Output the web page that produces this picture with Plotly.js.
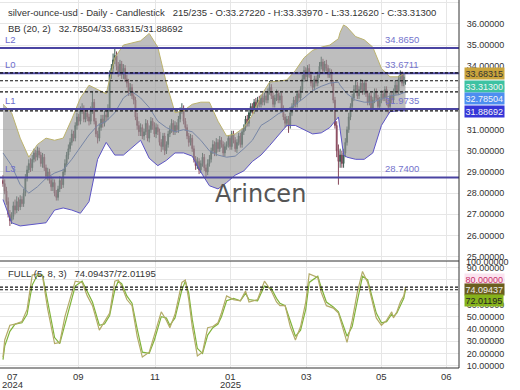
<!DOCTYPE html>
<html><head><meta charset="utf-8">
<script src="https://cdn.plot.ly/plotly-3.0.1.min.js"></script>
<style>html,body{margin:0;padding:0;background:#fff}#chart{width:520px;height:390px}</style>
</head><body><div id="chart"></div><script>
// ---- candle data (bar index 0..234) ----
const openP = [28.60,28.45,28.10,27.60,27.00,26.70,26.90,27.40,27.20,27.60,
27.35,27.70,27.50,28.00,28.70,29.10,29.40,29.20,29.60,29.90,
29.70,30.00,29.80,29.40,29.70,29.20,28.80,29.00,28.60,28.30,
28.50,28.00,27.80,28.20,28.60,28.40,29.00,29.40,29.80,30.10,
30.40,30.80,30.60,31.20,31.60,31.40,31.90,32.00,31.50,31.80,
31.60,31.40,31.90,32.30,31.40,30.80,30.60,31.10,31.50,31.30,
31.70,31.60,32.00,33.60,33.90,34.30,34.50,34.00,33.70,34.10,
33.60,33.90,33.40,33.20,32.80,33.00,32.60,32.40,31.60,31.20,
30.90,31.10,30.70,30.90,31.30,30.60,31.00,31.40,31.20,30.80,
31.10,30.90,30.40,30.20,30.70,30.00,30.30,30.80,31.00,31.30,
30.90,31.20,31.00,31.50,31.90,32.00,31.40,31.10,30.70,30.40,
30.60,30.10,29.60,29.30,29.50,29.10,29.40,29.70,29.20,29.00,
29.40,29.60,30.00,30.30,29.90,30.40,30.10,30.50,30.30,29.90,
30.20,30.30,30.60,30.20,30.80,30.50,30.10,30.40,30.70,30.30,
30.90,31.10,31.50,31.30,31.80,32.10,31.90,32.30,32.10,32.40,
32.20,32.50,32.30,32.60,32.40,32.80,33.00,32.60,32.20,32.50,
32.70,32.40,32.60,32.00,31.60,31.30,31.50,31.20,31.80,32.10,
32.40,32.20,32.70,32.50,32.90,33.40,33.80,33.50,33.90,33.60,
33.20,33.00,33.40,33.20,33.60,34.00,34.20,33.80,34.10,33.90,
33.60,33.70,33.20,32.40,31.20,30.00,29.50,29.80,29.40,29.90,
30.40,31.00,31.60,32.10,32.50,32.90,33.10,32.60,32.90,33.20,
32.80,33.20,32.70,32.30,32.60,32.00,32.40,32.80,32.50,32.10,
32.40,32.70,32.50,32.90,32.30,32.10,32.60,32.40,32.80,33.10,
32.80,33.40,33.60,33.20,33.2722];
const highP = [28.85,28.65,28.30,27.80,27.20,27.10,27.60,27.70,27.85,27.80,
27.90,27.85,28.20,28.90,29.30,29.60,29.65,29.80,30.10,30.05,
30.20,30.15,29.95,29.90,29.85,29.35,29.20,29.15,28.80,28.70,
28.65,28.15,28.35,28.80,28.75,29.15,29.60,29.95,30.30,30.60,
31.00,30.95,31.35,31.80,31.75,32.10,32.25,32.15,32.00,32.00,
31.75,32.10,32.80,32.45,31.55,30.95,31.30,31.70,31.70,31.90,
31.90,32.20,33.80,34.10,34.60,34.85,34.70,34.20,34.30,34.25,
34.10,34.05,33.60,33.40,33.20,33.15,32.80,32.55,31.80,31.40,
31.30,31.25,31.05,31.50,31.45,31.20,31.60,31.55,31.35,31.30,
31.25,31.05,30.55,30.85,30.85,30.45,30.95,31.20,31.50,31.45,
31.40,31.35,31.65,32.05,32.25,32.15,31.55,31.25,30.85,30.80,
30.75,30.25,29.75,29.70,29.65,29.55,29.90,29.85,29.35,29.60,
29.80,30.15,30.50,30.45,30.60,30.55,30.70,30.65,30.45,30.40,
30.45,30.75,30.75,30.95,30.95,30.65,30.55,30.85,30.85,31.05,
31.25,31.65,31.70,31.95,32.25,32.25,32.45,32.50,32.55,32.60,
32.65,32.70,32.75,32.75,32.95,33.30,33.15,32.75,32.65,32.90,
32.85,32.75,32.75,32.15,31.75,31.65,31.65,31.95,32.25,32.55,
32.60,32.85,32.85,33.05,33.60,34.00,33.95,34.05,34.10,33.75,
33.35,33.55,33.55,33.75,34.20,34.45,34.35,34.25,34.30,34.05,
33.90,33.85,33.35,32.55,31.40,30.30,30.10,30.00,30.10,30.60,
31.15,31.80,32.25,32.70,33.10,33.30,33.25,33.05,33.40,33.35,
33.35,33.35,32.85,32.75,32.75,32.55,32.95,32.95,32.65,32.55,
32.85,32.85,33.05,33.05,32.45,32.75,32.75,32.95,33.30,33.25,
33.55,33.80,33.75,33.65,33.3397];
const lowP = [28.30,27.95,27.45,26.85,26.45,26.55,26.75,27.00,27.05,27.15,
27.20,27.35,27.35,27.85,28.55,28.95,29.00,29.05,29.45,29.50,
29.55,29.65,29.25,29.20,29.05,28.65,28.60,28.45,28.10,28.10,
27.85,27.65,27.65,28.05,28.20,28.25,28.85,29.25,29.60,29.95,
30.25,30.45,30.45,31.00,31.20,31.25,31.75,31.35,31.35,31.40,
31.20,31.25,31.75,31.25,30.65,30.35,30.45,30.95,31.10,31.15,
31.40,31.45,31.85,33.40,33.70,34.10,33.80,33.50,33.55,33.40,
33.40,33.25,33.00,32.60,32.60,32.45,32.20,31.45,31.00,30.70,
30.70,30.55,30.50,30.75,30.45,30.40,30.85,31.00,30.65,30.60,
30.75,30.25,29.95,30.05,29.80,29.85,30.15,30.65,30.85,30.75,
30.75,30.85,30.85,31.35,31.75,31.25,30.95,30.55,30.20,30.25,
29.95,29.45,29.10,29.15,28.90,28.95,29.25,29.05,28.75,28.85,
29.25,29.45,29.85,29.75,29.75,29.95,29.95,30.15,29.75,29.75,
30.05,30.15,30.05,30.05,30.35,29.95,29.90,30.25,30.15,30.15,
30.75,30.95,31.15,31.15,31.65,31.75,31.75,31.95,31.95,32.05,
32.05,32.15,32.15,32.25,32.25,32.65,32.45,32.05,32.05,32.35,
32.25,32.25,31.85,31.45,31.10,31.15,30.85,31.05,31.65,31.95,
32.05,32.05,32.35,32.35,32.75,33.25,33.35,33.35,33.45,33.05,
32.85,32.85,33.05,33.05,33.45,33.85,33.65,33.65,33.75,33.45,
33.45,33.05,32.25,31.05,29.70,28.40,29.20,29.20,29.20,29.70,
30.25,30.85,31.45,31.95,32.35,32.75,32.45,32.45,32.75,32.65,
32.65,32.55,32.15,32.15,31.85,31.85,32.25,32.35,31.95,31.95,
32.25,32.35,32.35,32.15,31.75,31.95,32.25,32.25,32.65,32.65,
32.65,33.25,33.05,33.05,33.1262];
const closeP = [28.45,28.10,27.60,27.00,26.70,26.90,27.40,27.20,27.60,27.35,
27.70,27.50,28.00,28.70,29.10,29.40,29.20,29.60,29.90,29.70,
30.00,29.80,29.40,29.70,29.20,28.80,29.00,28.60,28.30,28.50,
28.00,27.80,28.20,28.60,28.40,29.00,29.40,29.80,30.10,30.40,
30.80,30.60,31.20,31.60,31.40,31.90,32.00,31.50,31.80,31.60,
31.40,31.90,32.30,31.40,30.80,30.60,31.10,31.50,31.30,31.70,
31.60,32.00,33.60,33.90,34.30,34.50,34.00,33.70,34.10,33.60,
33.90,33.40,33.20,32.80,33.00,32.60,32.40,31.60,31.20,30.90,
31.10,30.70,30.90,31.30,30.60,31.00,31.40,31.20,30.80,31.10,
30.90,30.40,30.20,30.70,30.00,30.30,30.80,31.00,31.30,30.90,
31.20,31.00,31.50,31.90,32.00,31.40,31.10,30.70,30.40,30.60,
30.10,29.60,29.30,29.50,29.10,29.40,29.70,29.20,29.00,29.40,
29.60,30.00,30.30,29.90,30.40,30.10,30.50,30.30,29.90,30.20,
30.30,30.60,30.20,30.80,30.50,30.10,30.40,30.70,30.30,30.90,
31.10,31.50,31.30,31.80,32.10,31.90,32.30,32.10,32.40,32.20,
32.50,32.30,32.60,32.40,32.80,33.00,32.60,32.20,32.50,32.70,
32.40,32.60,32.00,31.60,31.30,31.50,31.20,31.80,32.10,32.40,
32.20,32.70,32.50,32.90,33.40,33.80,33.50,33.90,33.60,33.20,
33.00,33.40,33.20,33.60,34.00,34.20,33.80,34.10,33.90,33.60,
33.70,33.20,32.40,31.20,30.00,29.50,29.80,29.40,29.90,30.40,
31.00,31.60,32.10,32.50,32.90,33.10,32.60,32.90,33.20,32.80,
33.20,32.70,32.30,32.60,32.00,32.40,32.80,32.50,32.10,32.40,
32.70,32.50,32.90,32.30,32.10,32.60,32.40,32.80,33.10,32.80,
33.40,33.60,33.20,33.50,33.3130];

// ---- Bollinger band (20,2) at sample bars ----
const bbIdx = [0,5,10,15,20,25,30,35,40,45,50,55,60,65,70,75,80,85,90,95,100,105,110,115,120,125,130,135,140,145,150,155,160,165,170,175,180,185,190,195,196,198,200,205,210,215,220,225,230,234];
const bbUpper = [32.2,31.8,30.6,29.7,30.3,30.6,30.5,30.6,31.5,32.5,33.1,32.9,32.7,34.4,35.0,35.1,35.2,35.55,34.9,33.2,31.8,31.9,32.2,32.3,32.3,31.4,30.7,30.8,31.1,31.7,32.6,33.25,33.3,33.35,33.8,34.4,34.75,34.9,35.0,35.3,35.6,35.95,35.85,35.4,35.25,34.9,33.9,33.5,33.5,33.68315];
const bbMid = [29.9,29.3,28.4,28.0,28.3,28.7,28.95,29.1,29.6,30.2,30.75,31.2,31.4,31.8,32.5,32.8,32.5,32.05,31.4,31.1,30.9,31.0,30.9,30.5,30.0,29.8,29.7,29.75,30.1,30.5,31.2,31.45,31.75,31.95,32.2,32.5,32.85,33.05,33.2,33.25,33.1,32.9,32.7,32.4,32.3,32.3,32.45,32.6,32.65,32.78504];
const bbLower = [27.7,26.6,26.45,26.5,26.55,26.6,27.2,27.3,27.2,27.05,27.6,29.6,30.4,29.8,29.8,30.15,30.5,29.65,29.3,29.55,29.9,29.9,29.75,29.0,28.35,28.2,28.5,28.85,29.05,29.5,29.8,30.25,30.7,31.2,31.2,31.0,30.8,30.85,31.1,31.6,30.9,29.8,29.7,29.6,29.6,29.9,31.2,31.85,31.9,31.88692];

// ---- Stochastic FULL (5,8,3) ----
const stIdx = [0,1,4,7,11,14,17,20,23,26,30,33,36,39,42,46,49,52,56,59,62,65,67,69,72,75,78,81,85,88,92,95,97,100,104,106,108,110,113,116,119,122,125,127,130,134,138,141,143,148,152,156,159,161,164,167,170,173,176,178,183,185,188,192,195,200,203,206,209,212,215,217,220,223,226,227,229,231,233,234];
const stK = [17,31,43,44,46,56,84,85,83,56,28,29,50,64,79,78,67,59,39,46,53,79,80,75,64,59,34,17,21,35,54,47,41,52,78,80,64,42,18,21,41,42,45,53,67,64,63,71,62,64,79,71,62,59,59,42,31,42,62,85,82,70,59,57,53,29,47,70,87,78,60,49,43,47,54,49,54,62,67,74.09437];
const stD = [15,26,38,44,45,52,76,84,84,62,33,28,44,59,75,79,70,62,43,44,51,72,79,77,67,61,40,21,20,31,50,49,43,49,72,79,69,48,24,20,35,41,44,50,63,65,63,69,64,63,75,73,65,61,59,46,34,39,56,78,83,74,62,58,54,34,42,63,83,80,64,53,45,46,52,50,53,59,65,72.01195];

// ---- levels and axis labels ----
const levelNames = ['L2','L0','L1','L3'];
const levelValues = [34.8650, 33.6711, 31.9735, 28.7400];
const xTickVals = [5.8, 43.6, 88.4, 132, 176.2, 219.8, 258.1];
const xMonthText = ['07','09','11','01','03','05','06'];
const xYearText = ['2024','','','2025','','',''];
const xGridVals = [43.6, 88.4, 132, 176.2, 219.8, 258.1];

const barIdx = closeP.map((_, i) => i);
const last = a => a[a.length - 1];
const FONT = 'Liberation Sans, Arial, sans-serif';
const nb = s => s.replace(/ /g, '\u00a0');

const traces = [
  {x: bbIdx, y: bbLower, type: 'scatter', mode: 'lines', line: {color: '#5d55c6', width: 1}, xaxis: 'x', yaxis: 'y', hoverinfo: 'skip'},
  {x: bbIdx, y: bbUpper, type: 'scatter', mode: 'lines', fill: 'tonexty', fillcolor: 'rgba(150,150,150,0.62)', line: {color: '#bcb36e', width: 1}, xaxis: 'x', yaxis: 'y', hoverinfo: 'skip'},
  {x: bbIdx, y: bbMid, type: 'scatter', mode: 'lines', line: {color: '#7786a6', width: 1}, xaxis: 'x', yaxis: 'y', hoverinfo: 'skip'},
  {x: barIdx, open: openP, high: highP, low: lowP, close: closeP, type: 'candlestick', xaxis: 'x', yaxis: 'y', whiskerwidth: 0,
   increasing: {line: {color: '#3a5a50', width: 1}, fillcolor: '#4a7262'},
   decreasing: {line: {color: '#85475a', width: 1}, fillcolor: '#b86a7c'}},
  {x: stIdx, y: stD, type: 'scatter', mode: 'lines', line: {color: '#7fb43a', width: 1.2}, xaxis: 'x', yaxis: 'y2'},
  {x: stIdx, y: stK, type: 'scatter', mode: 'lines', line: {color: '#b3ab68', width: 1.2}, xaxis: 'x', yaxis: 'y2'}
];

const H = 368; // plot-area height in px
const py = p => 1 - p / H;
const topDom = [py(260), 1];
const botDom = [0, py(261)];

const shapes = [];
levelValues.forEach(v => shapes.push({type: 'line', xref: 'paper', x0: 0, x1: 1, yref: 'y', y0: v, y1: v, line: {color: '#4a44a2', width: 2}}));
[last(bbUpper), last(closeP), last(bbMid), last(bbLower)].forEach(v => shapes.push({type: 'line', xref: 'paper', x0: 0, x1: 1, yref: 'y', y0: v, y1: v, line: {color: '#111', width: 1.2, dash: '3px,2px'}}));
[last(stK), last(stD)].forEach(v => shapes.push({type: 'line', xref: 'paper', x0: 0, x1: 1, yref: 'y2', y0: v, y1: v, line: {color: '#111', width: 1.2, dash: '3px,2px'}}));
shapes.push({type: 'line', xref: 'paper', yref: 'paper', x0: 1, x1: 1, y0: 0, y1: 1, line: {color: '#333', width: 1}});
shapes.push({type: 'line', xref: 'paper', yref: 'paper', x0: 0, x1: 1, y0: botDom[1], y1: botDom[1], line: {color: '#333', width: 1}});
shapes.push({type: 'line', xref: 'paper', yref: 'paper', x0: 0, x1: 1, y0: 0, y1: 0, line: {color: '#333', width: 1}});

const ann = [];
const txt = (text, x, yPx, opts = {}) => Object.assign({xref: 'paper', yref: 'paper', x: x, y: py(yPx), text: text, showarrow: false, xanchor: 'left', yanchor: 'middle', font: {family: FONT, size: 9.5, color: '#333'}}, opts);
ann.push(txt(nb('silver-ounce-usd - Daily - Candlestick   215/235 - O:' + last(openP).toFixed(5) + ' - H:' + last(highP).toFixed(5) + ' - L:' + last(lowP).toFixed(5) + ' - C:' + last(closeP).toFixed(5)), 6 / 459, 12));
ann.push(txt(nb('BB (20, 2)   ' + last(bbMid).toFixed(5) + '/' + last(bbUpper).toFixed(5) + '/' + last(bbLower).toFixed(5)), 6 / 459, 29));
ann.push(txt(nb('FULL (5, 8, 3)   ' + last(stK).toFixed(5) + '/' + last(stD).toFixed(5)), 6 / 459, 273));
ann.push(txt('Arincen', 260 / 459, 194, {xanchor: 'center', font: {family: 'DejaVu Sans, sans-serif', size: 24, color: '#555'}}));
levelValues.forEach((v, k) => {
  ann.push({xref: 'paper', yref: 'y', x: 3 / 459, y: v, yanchor: 'bottom', xanchor: 'left', yshift: 1, text: levelNames[k], showarrow: false, font: {family: FONT, size: 9.5, color: '#6d6dcc'}});
  ann.push({xref: 'paper', yref: 'y', x: 383 / 459, y: v, yanchor: 'bottom', xanchor: 'left', yshift: 1, text: v.toFixed(4), showarrow: false, font: {family: FONT, size: 9.5, color: '#7474cc'}});
});
const box = (text, yPx, bg, fg) => ({xref: 'paper', yref: 'paper', x: 1, xshift: 5, y: py(yPx), xanchor: 'left', yanchor: 'middle', text: text, showarrow: false, bgcolor: bg, borderpad: 0.5, font: {family: FONT, size: 9, color: fg}});
ann.push(box(last(bbUpper).toFixed(5), 73, '#c9a43c', '#333'));
ann.push(box(last(closeP).toFixed(5), 86, '#3dc2a2', '#f4f4f4'));
ann.push(box(last(bbMid).toFixed(5), 98.5, '#4d8ef0', '#f4f4f4'));
ann.push(box(last(bbLower).toFixed(5), 111.5, '#3636d8', '#f4f4f4'));
ann.push({xref: 'paper', yref: 'y2', x: 1, xshift: 5, y: 80, xanchor: 'left', yanchor: 'middle', text: '80.00000', showarrow: false, bgcolor: '#fbe3ef', borderpad: 0.5, font: {family: FONT, size: 9, color: '#c8306a'}});
ann.push(box(last(stK).toFixed(5), 289, '#6b5e1e', '#eeeeee'));
ann.push(box(last(stD).toFixed(5), 300.5, '#86b31c', '#222'));
ann.push({xref: 'paper', yref: 'paper', x: 1, xshift: 5, y: py(262), xanchor: 'left', yanchor: 'middle', text: '100.00000', showarrow: false, font: {family: FONT, size: 9, color: '#333'}});
xTickVals.forEach((v, k) => {
  ann.push({xref: 'x', yref: 'paper', x: v, y: py(376), yanchor: 'middle', text: xMonthText[k], showarrow: false, font: {family: FONT, size: 9.5, color: '#333'}});
  if (xYearText[k]) ann.push({xref: 'x', yref: 'paper', x: v, y: py(384.5), yanchor: 'middle', text: xYearText[k], showarrow: false, font: {family: FONT, size: 9.5, color: '#333'}});
});

const axisY = {side: 'right', showline: false, zeroline: false, gridcolor: '#e6e6e6', ticks: 'outside', ticklen: 5, tickcolor: 'rgba(0,0,0,0)', tickfont: {family: FONT, size: 9, color: '#333'}, tickformat: '.5f', fixedrange: true};

const layout = {
  width: 520, height: 390,
  margin: {l: 0, r: 61, t: 0, b: 22},
  paper_bgcolor: '#fff', plot_bgcolor: '#fff',
  showlegend: false,
  xaxis: {range: [-1.744, 265.1], tickvals: xGridVals, showticklabels: false, showline: false, zeroline: false, gridcolor: '#e6e6e6', ticks: '', rangeslider: {visible: false}, anchor: 'y2'},
  yaxis: Object.assign({}, axisY, {domain: topDom, range: [24.84, 37.13], dtick: 1, tick0: 0, anchor: 'x'}),
  yaxis2: Object.assign({}, axisY, {domain: botDom, range: [8.1, 95.5], dtick: 10, tick0: 0, anchor: 'x'}),
  shapes: shapes,
  annotations: ann
};

Plotly.newPlot('chart', traces, layout, {staticPlot: true, displayModeBar: false});
</script></body></html>
